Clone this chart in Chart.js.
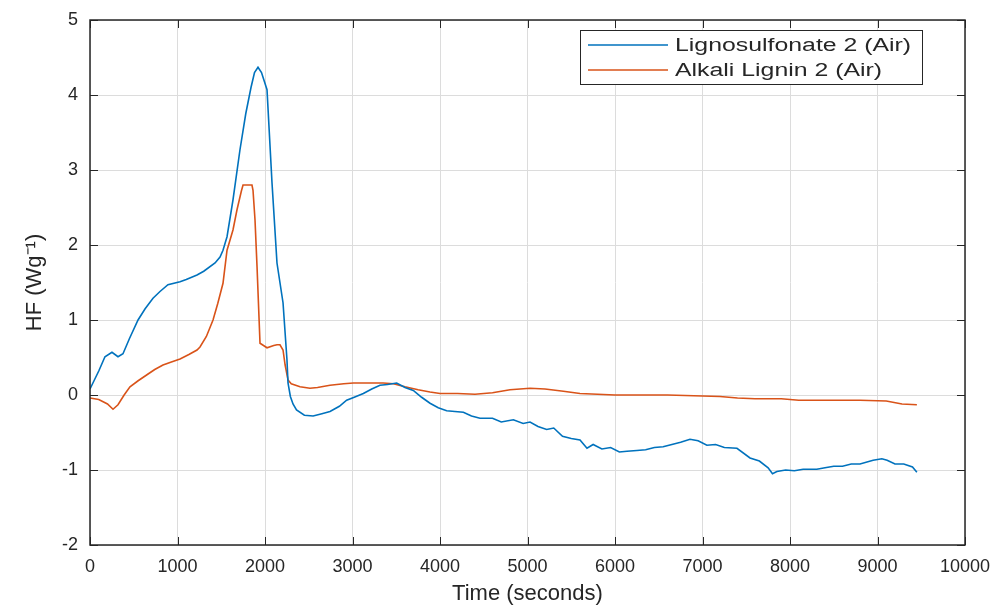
<!DOCTYPE html>
<html><head><meta charset="utf-8">
<script src="https://cdn.jsdelivr.net/npm/chart.js@4"></script>
<style>html,body{margin:0;padding:0;background:#fff;}#wrap{width:1007px;height:607px;}</style>
</head><body><div id="wrap"><canvas id="c" width="1007" height="607"></canvas></div>
<script>
const seriesNames = ["Lignosulfonate 2 (Air)", "Alkali Lignin 2 (Air)"];
const xTitle = "Time (seconds)";
const yTitle = "HF (Wg\u207B\u00B9)";
const blueT = [0,50,100,171,251,320,377,450,549,630,720,800,891,1029,1100,1223,1300,1429,1486,1520,1566,1634,1714,1780,1840,1880,1920,1960,2023,2080,2137,2206,2251,2263,2290,2320,2360,2450,2550,2650,2743,2850,2933,3020,3124,3220,3314,3400,3505,3600,3695,3790,3886,3980,4076,4170,4267,4360,4457,4600,4700,4838,4950,5029,5120,5219,5300,5400,5500,5600,5680,5750,5850,5950,6050,6137,6250,6350,6450,6550,6650,6750,6857,6950,7050,7150,7250,7394,7543,7650,7750,7800,7850,7950,8050,8150,8306,8400,8500,8600,8700,8800,8950,9050,9110,9200,9300,9400,9450];
const blueV = [0.08,0.2,0.32,0.51,0.57,0.51,0.55,0.75,1.0,1.15,1.29,1.38,1.47,1.51,1.54,1.6,1.65,1.76,1.84,1.93,2.11,2.6,3.27,3.75,4.1,4.3,4.37,4.3,4.07,2.83,1.76,1.23,0.47,0.16,-0.02,-0.12,-0.2,-0.27,-0.28,-0.25,-0.22,-0.15,-0.07,-0.03,0.02,0.08,0.13,0.14,0.16,0.1,0.06,-0.03,-0.11,-0.17,-0.21,-0.22,-0.23,-0.28,-0.31,-0.31,-0.36,-0.33,-0.38,-0.36,-0.42,-0.46,-0.44,-0.55,-0.58,-0.6,-0.71,-0.66,-0.72,-0.7,-0.76,-0.75,-0.74,-0.73,-0.7,-0.69,-0.66,-0.63,-0.59,-0.61,-0.67,-0.66,-0.7,-0.71,-0.84,-0.88,-0.97,-1.05,-1.02,-1.0,-1.01,-0.99,-0.99,-0.97,-0.95,-0.95,-0.92,-0.92,-0.87,-0.85,-0.87,-0.92,-0.92,-0.96,-1.03];
const orangeT = [0,100,200,263,320,390,457,550,651,740,834,930,1029,1130,1223,1257,1330,1406,1460,1520,1566,1634,1680,1730,1749,1851,1863,1886,1909,1943,2023,2100,2137,2171,2206,2230,2263,2300,2400,2514,2600,2743,2900,3010,3200,3350,3467,3600,3750,3886,4000,4200,4400,4600,4800,5029,5200,5410,5600,5800,6000,6300,6600,6900,7200,7400,7600,7900,8100,8306,8600,8800,9100,9280,9450];
const orangeV = [-0.04,-0.06,-0.12,-0.19,-0.13,0.0,0.11,0.19,0.27,0.34,0.4,0.44,0.48,0.54,0.6,0.64,0.78,1.0,1.22,1.49,1.93,2.2,2.47,2.72,2.8,2.8,2.73,2.33,1.71,0.69,0.63,0.66,0.67,0.67,0.6,0.4,0.2,0.15,0.11,0.09,0.1,0.13,0.15,0.16,0.16,0.16,0.15,0.11,0.07,0.04,0.02,0.02,0.01,0.03,0.07,0.09,0.08,0.05,0.02,0.01,0.0,0.0,0.0,-0.01,-0.02,-0.04,-0.05,-0.05,-0.07,-0.07,-0.07,-0.07,-0.08,-0.12,-0.13];
const xTicks = [0,1000,2000,3000,4000,5000,6000,7000,8000,9000,10000];
const yTicks = [-2,-1,0,1,2,3,4,5];
const colors = ["#0072BD", "#D95319"];

const toPts = (t, v) => t.map((x, i) => ({x: x, y: v[i]}));
const FONT = "'Liberation Sans', Arial, sans-serif";

const framePlugin = {
  id: 'frame',
  afterDatasetsDraw(chart) {
    const ctx = chart.ctx, a = chart.chartArea;
    const xs = chart.scales.x, ys = chart.scales.y;
    ctx.save();
    ctx.strokeStyle = '#262626';
    ctx.lineWidth = 1;
    const tl = 8;
    ctx.beginPath();
    xTicks.forEach(t => {
      const px = Math.round(xs.getPixelForValue(t)) + 0.5;
      ctx.moveTo(px, a.bottom); ctx.lineTo(px, a.bottom - tl);
      ctx.moveTo(px, a.top); ctx.lineTo(px, a.top + tl);
    });
    yTicks.forEach(t => {
      const py = Math.round(ys.getPixelForValue(t)) + 0.5;
      ctx.moveTo(a.left, py); ctx.lineTo(a.left + tl, py);
      ctx.moveTo(a.right, py); ctx.lineTo(a.right - tl, py);
    });
    ctx.stroke();
    ctx.lineWidth = 1.5;
    ctx.strokeRect(a.left, a.top, a.right - a.left, a.bottom - a.top);
    // legend
    const lx = 580, ly = 30, lw = 342, lh = 54;
    ctx.fillStyle = '#fff';
    ctx.fillRect(lx, ly, lw, lh);
    ctx.lineWidth = 1;
    ctx.strokeStyle = '#262626';
    ctx.strokeRect(lx + 0.5, ly + 0.5, lw, lh);
    ctx.font = "18px " + FONT;
    ctx.textBaseline = 'middle';
    ctx.textAlign = 'left';
    seriesNames.forEach((n, i) => {
      const y = ly + 15 + i * 25;
      ctx.strokeStyle = colors[i];
      ctx.lineWidth = 1.5;
      ctx.beginPath(); ctx.moveTo(588, y); ctx.lineTo(668, y); ctx.stroke();
      ctx.fillStyle = '#262626';
      ctx.save();
      ctx.translate(675, y + 1);
      ctx.scale(1.38, 1);
      ctx.fillText(n, 0, 0);
      ctx.restore();
    });
    ctx.restore();
  }
};

new Chart(document.getElementById('c'), {
  type: 'scatter',
  data: {
    datasets: [
      {label: seriesNames[0], data: toPts(blueT, blueV), showLine: true, borderColor: colors[0], backgroundColor: colors[0], borderWidth: 1.6, pointRadius: 0, tension: 0},
      {label: seriesNames[1], data: toPts(orangeT, orangeV), showLine: true, borderColor: colors[1], backgroundColor: colors[1], borderWidth: 1.6, pointRadius: 0, tension: 0}
    ]
  },
  options: {
    responsive: false, animation: false, devicePixelRatio: 1,
    layout: {padding: {top: 20, right: 42, left: 0, bottom: 0}},
    plugins: {legend: {display: false}, tooltip: {enabled: false}},
    scales: {
      x: {
        type: 'linear', min: 0, max: 10000,
        afterBuildTicks: s => { s.ticks = xTicks.map(v => ({value: v})); },
        afterFit: s => { s.height = 62; s.paddingLeft = 0; s.paddingRight = 0; },
        grid: {color: '#dcdcdc', lineWidth: 1, drawTicks: false},
        border: {display: false},
        ticks: {color: '#262626', font: {family: FONT, size: 18}, padding: 11, maxRotation: 0, autoSkip: false, callback: v => String(v)},
        title: {display: true, text: xTitle, color: '#262626', font: {family: FONT, size: 22}, padding: {top: 0, bottom: 0}}
      },
      y: {
        type: 'linear', min: -2, max: 5,
        afterBuildTicks: s => { s.ticks = yTicks.map(v => ({value: v})); },
        afterFit: s => { s.width = 90; s.paddingTop = 0; s.paddingBottom = 0; },
        grid: {color: '#dcdcdc', lineWidth: 1, drawTicks: false},
        border: {display: false},
        ticks: {color: '#262626', font: {family: FONT, size: 18}, padding: 12, callback: v => String(v)},
        title: {display: true, text: yTitle, color: '#262626', font: {family: FONT, size: 22}, padding: {top: 22, bottom: 0}}
      }
    }
  },
  plugins: [framePlugin]
});
</script></body></html>
